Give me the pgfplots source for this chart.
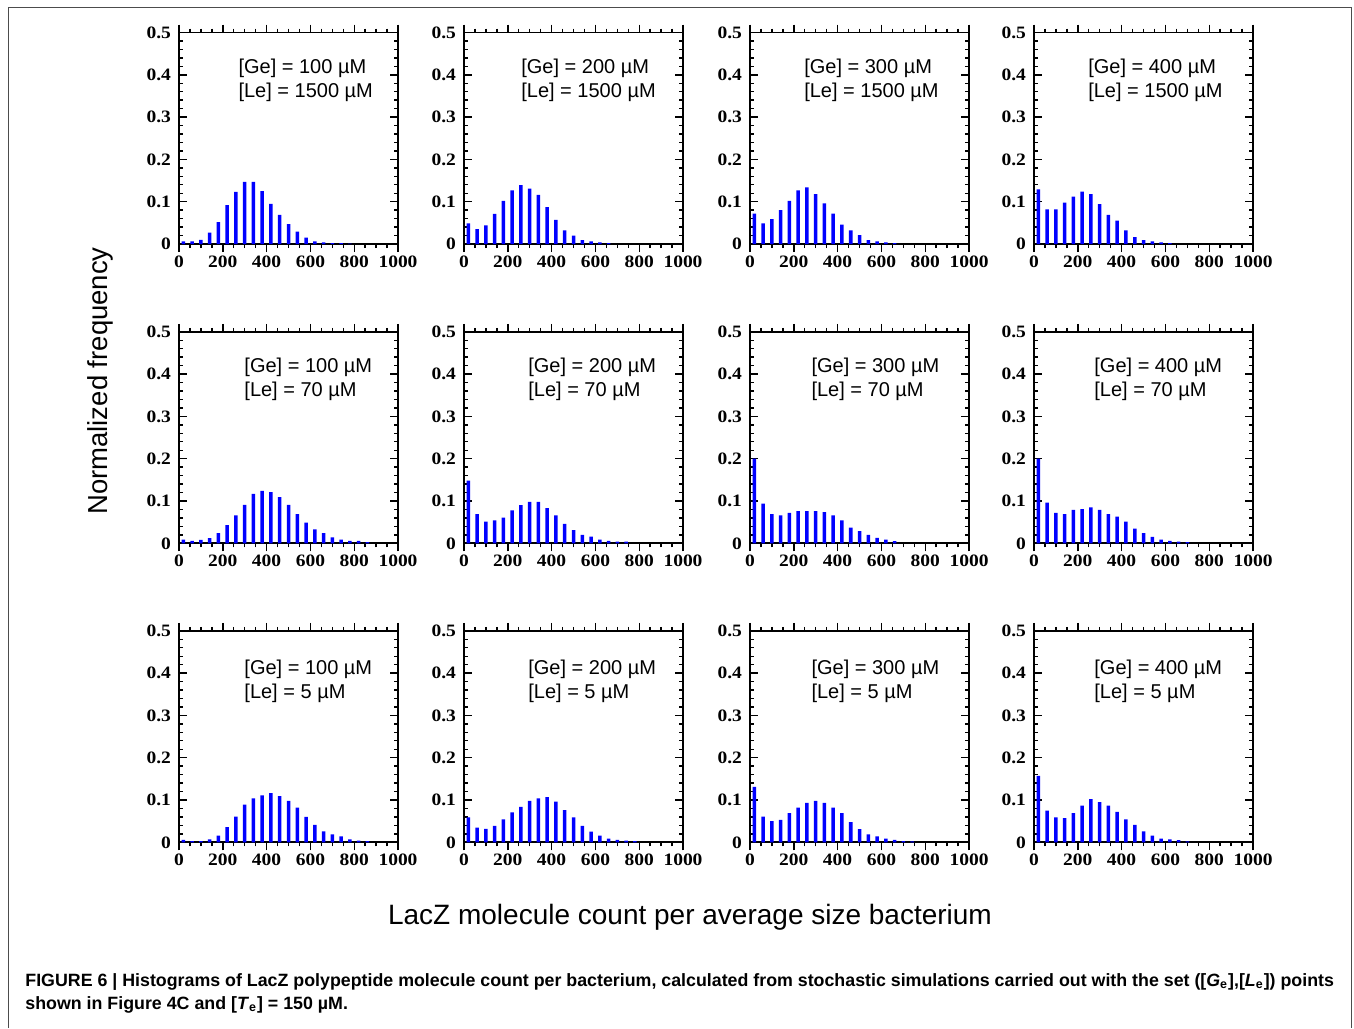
\documentclass[border=0pt]{standalone}
\usepackage{fontspec}
\setmainfont{Liberation Sans}
\newfontfamily\tickfont{Liberation Serif}[FakeStretch=1.12]
\usepackage{pgfplots}
\usepackage{pgfplotstable}
\pgfplotsset{compat=1.18}

\pgfplotstableread{
x y
20 0.006
60 0.006
100 0.010
140 0.027
180 0.052
220 0.092
260 0.123
300 0.147
340 0.147
380 0.125
420 0.095
460 0.069
500 0.047
540 0.029
580 0.015
620 0.006
660 0.004
700 0.002
740 0.002
780 0.001
}\tA
\pgfplotstableread{
x y
20 0.049
60 0.035
100 0.044
140 0.071
180 0.102
220 0.127
260 0.139
300 0.131
340 0.116
380 0.087
420 0.057
460 0.032
500 0.020
540 0.009
580 0.006
620 0.004
660 0.002
}\tB
\pgfplotstableread{
x y
20 0.072
60 0.049
100 0.059
140 0.080
180 0.102
220 0.127
260 0.134
300 0.118
340 0.096
380 0.072
420 0.046
460 0.032
500 0.021
540 0.009
580 0.006
620 0.004
660 0.002
}\tC
\pgfplotstableread{
x y
20 0.129
60 0.082
100 0.082
140 0.098
180 0.112
220 0.124
260 0.118
300 0.094
340 0.069
380 0.055
420 0.032
460 0.016
500 0.009
540 0.006
580 0.004
620 0.002
}\tD
\pgfplotstableread{
x y
20 0.009
60 0.006
100 0.008
140 0.012
180 0.024
220 0.043
260 0.066
300 0.091
340 0.117
380 0.124
420 0.121
460 0.109
500 0.091
540 0.069
580 0.049
620 0.033
660 0.024
700 0.014
740 0.009
780 0.006
820 0.006
860 0.003
}\tE
\pgfplotstableread{
x y
20 0.148
60 0.069
100 0.051
140 0.054
180 0.061
220 0.078
260 0.090
300 0.098
340 0.098
380 0.083
420 0.066
460 0.046
500 0.031
540 0.020
580 0.016
620 0.009
660 0.006
700 0.004
740 0.004
}\tF
\pgfplotstableread{
x y
20 0.200
60 0.094
100 0.069
140 0.066
180 0.072
220 0.076
260 0.076
300 0.076
340 0.074
380 0.066
420 0.054
460 0.037
500 0.029
540 0.020
580 0.013
620 0.009
660 0.005
}\tG
\pgfplotstableread{
x y
20 0.200
60 0.096
100 0.072
140 0.069
180 0.079
220 0.081
260 0.085
300 0.079
340 0.069
380 0.063
420 0.051
460 0.035
500 0.024
540 0.015
580 0.009
620 0.006
660 0.004
700 0.003
}\tH
\pgfplotstableread{
x y
20 0.006
60 0.003
100 0.003
140 0.007
180 0.016
220 0.036
260 0.061
300 0.089
340 0.104
380 0.111
420 0.116
460 0.109
500 0.098
540 0.082
580 0.060
620 0.041
660 0.026
700 0.019
740 0.014
780 0.007
820 0.004
860 0.003
}\tI
\pgfplotstableread{
x y
20 0.059
60 0.035
100 0.032
140 0.039
180 0.054
220 0.071
260 0.084
300 0.098
340 0.104
380 0.107
420 0.096
460 0.076
500 0.059
540 0.039
580 0.025
620 0.016
660 0.009
700 0.006
740 0.004
780 0.003
}\tJ
\pgfplotstableread{
x y
20 0.131
60 0.061
100 0.050
140 0.053
180 0.069
220 0.082
260 0.093
300 0.098
340 0.093
380 0.082
420 0.069
460 0.048
500 0.031
540 0.019
580 0.014
620 0.009
660 0.006
700 0.003
740 0.002
}\tK
\pgfplotstableread{
x y
20 0.157
60 0.075
100 0.059
140 0.057
180 0.069
220 0.087
260 0.102
300 0.095
340 0.087
380 0.072
420 0.054
460 0.041
500 0.026
540 0.016
580 0.009
620 0.007
660 0.005
700 0.002
}\tL

\pgfplotsset{
  panel/.style={
    scale only axis,
    width=109.5pt, height=105.75pt,
    anchor=south west,
    xmin=0, xmax=1000, ymin=0, ymax=0.5,
    xtick={0,200,400,600,800,1000},
    xticklabels={0,200,400,600,800,1000},
    ytick={0,0.1,0.2,0.3,0.4,0.5},
    yticklabels={0,0.1,0.2,0.3,0.4,0.5},
    minor x tick num=3,
    minor y tick num=4,
    major tick length=4pt,
    minor tick length=2pt,
    axis line style={line width=0.9pt},
    every tick/.style={black, line width=0.7pt},
    /pgf/number format/assume math mode=true,
    ticklabel style={font=\tickfont\bfseries\fontsize{8.7}{10}\selectfont},
    xticklabel style={yshift=1.5pt},
    yticklabel style={xshift=-0.5pt},
    ybar, bar width=16,
  },
}
\tikzset{anno/.style={font=\fontsize{10}{12}\selectfont, anchor=west, inner sep=0pt}}

\newcommand\panel[8]{%
  \begin{axis}[panel, at={(#1,#2)}]
    \addplot[fill=blue, draw=none, bar shift=0pt] table {#5};
    \node[anno] at (rel axis cs:#6,#7) {[Ge] = #3 µM};
    \node[anno] at (rel axis cs:#6,#8) {[Le] = #4 µM};
  \end{axis}}

\begin{document}
\begin{tikzpicture}
\useasboundingbox (0,0) rectangle (677pt,-514pt);
\draw[line width=0.5pt, black!70] (4pt,-514pt) -- (4pt,-3.5pt) -- (675.5pt,-3.5pt) -- (675.5pt,-514pt);

\panel{89.5pt}{-122pt}{100}{1500}{\tA}{0.27}{0.83}{0.717}
\panel{232pt}{-122pt}{200}{1500}{\tB}{0.26}{0.83}{0.717}
\panel{375pt}{-122pt}{300}{1500}{\tC}{0.246}{0.83}{0.717}
\panel{517pt}{-122pt}{400}{1500}{\tD}{0.246}{0.83}{0.717}

\panel{89.5pt}{-271.65pt}{100}{70}{\tE}{0.297}{0.83}{0.717}
\panel{232pt}{-271.65pt}{200}{70}{\tF}{0.292}{0.83}{0.717}
\panel{375pt}{-271.65pt}{300}{70}{\tG}{0.279}{0.83}{0.717}
\panel{517pt}{-271.65pt}{400}{70}{\tH}{0.274}{0.83}{0.717}

\panel{89.5pt}{-421.15pt}{100}{5}{\tI}{0.297}{0.82}{0.706}
\panel{232pt}{-421.15pt}{200}{5}{\tJ}{0.292}{0.82}{0.706}
\panel{375pt}{-421.15pt}{300}{5}{\tK}{0.279}{0.82}{0.706}
\panel{517pt}{-421.15pt}{400}{5}{\tL}{0.274}{0.82}{0.706}

\node[rotate=90, font=\fontsize{13.75}{16}\selectfont, inner sep=0pt] at (50pt,-190.5pt) {Normalized frequency};
\node[font=\fontsize{14}{16}\selectfont, inner sep=0pt] at (345pt,-458.5pt) {LacZ molecule count per average size bacterium};
\node[anchor=base west, inner sep=0pt, font=\bfseries\fontsize{8.9}{10}\selectfont] at (12.5pt,-493.2pt)
  {FIGURE 6 | Histograms of LacZ polypeptide molecule count per bacterium, calculated from stochastic simulations carried out with the set ([\textit{G}\textsubscript{e}],[\textit{L}\textsubscript{e}]) points};
\node[anchor=base west, inner sep=0pt, font=\bfseries\fontsize{8.9}{10}\selectfont] at (12.5pt,-504.7pt)
  {shown in Figure 4C and [\textit{T}\textsubscript{e}] = 150 µM.};
\end{tikzpicture}
\end{document}
